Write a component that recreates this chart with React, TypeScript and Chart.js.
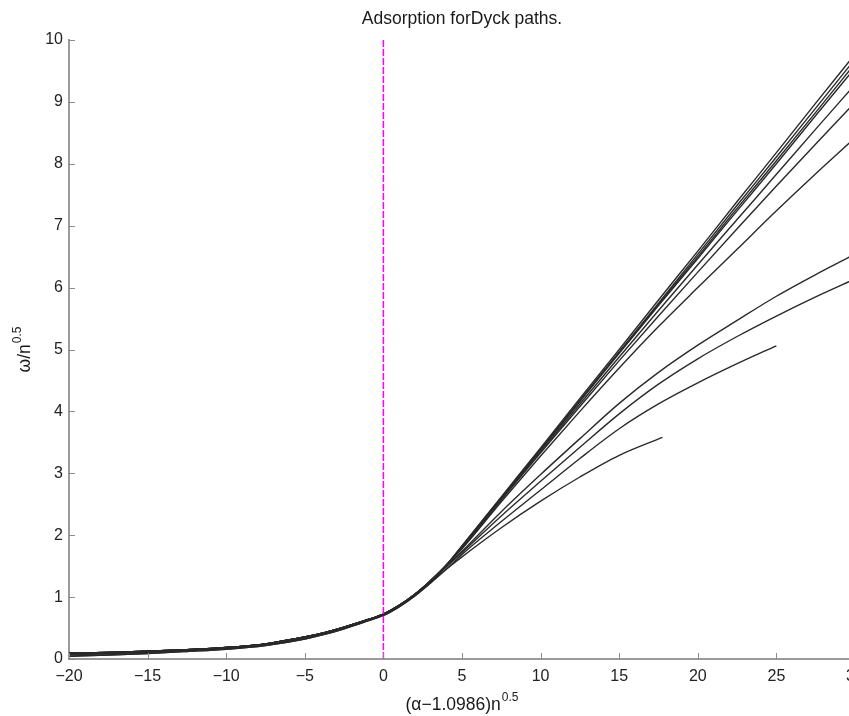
import React, { useEffect, useRef } from 'react';
import { Chart, registerables } from 'chart.js';

Chart.register(...registerables);

const FONT = '"Liberation Sans", Arial, Helvetica, sans-serif';

const chartTitle = 'Adsorption forDyck paths.';
const xAxisMain = '(α−1.0986)n';
const yAxisMain = 'ω/n';
const axisExponent = '0.5';

const xLimits = [-20, 30];
const yLimits = [0, 10];
const xStep = 5;
const yStep = 1;

// Scaled coupling (α − 1.0986)·n^0.5 where all system sizes collapse
const xCore = [-20, -17.5, -15, -12.5, -10, -7.5, -5, -3.75, -2.5, -1.25, 0, 1, 2, 3, 4];
const yCoreLarge = [0.095, 0.105, 0.125, 0.15, 0.185, 0.245, 0.355, 0.425, 0.515, 0.615, 0.725, 0.865, 1.045, 1.265, 1.515];
const yCoreMid = [0.07, 0.088, 0.11, 0.138, 0.172, 0.232, 0.34, 0.412, 0.502, 0.605, 0.715, 0.855, 1.035, 1.25, 1.49];
const yCoreSmall = [0.045, 0.065, 0.09, 0.122, 0.157, 0.217, 0.323, 0.397, 0.489, 0.593, 0.703, 0.843, 1.02, 1.23, 1.45];

// Adsorbed regime, where the system sizes separate
const xTail = [5, 7.5, 10, 12.5, 15, 17.5, 20, 22.5, 25, 27.5, 30];
const xTailH = [5, 7.5, 10, 12.5, 15, 17.5, 20, 22.5, 25];
const xTailI = [5, 7.5, 10, 12.5, 15, 17.75];

const tailA1 = [1.83, 2.62, 3.41, 4.21, 5.0, 5.8, 6.59, 7.39, 8.18, 8.98, 9.77];
const tailA2 = [1.82, 2.61, 3.39, 4.18, 4.96, 5.75, 6.54, 7.33, 8.11, 8.9, 9.69];
const tailA3 = [1.82, 2.6, 3.38, 4.17, 4.95, 5.73, 6.5, 7.28, 8.05, 8.83, 9.62];
const tailB = [1.81, 2.6, 3.38, 4.16, 4.94, 5.71, 6.47, 7.24, 8.0, 8.78, 9.55];
const tailC = [1.8, 2.58, 3.35, 4.12, 4.88, 5.63, 6.37, 7.1, 7.83, 8.56, 9.28];
const tailD = [1.8, 2.57, 3.33, 4.08, 4.82, 5.54, 6.25, 6.95, 7.64, 8.32, 8.99];
const tailE = [1.78, 2.54, 3.28, 4.0, 4.7, 5.37, 6.0, 6.62, 7.24, 7.84, 8.42];
const tailF = [1.74, 2.38, 2.98, 3.56, 4.13, 4.63, 5.07, 5.47, 5.86, 6.21, 6.54];
const tailG = [1.72, 2.31, 2.87, 3.42, 3.96, 4.44, 4.85, 5.21, 5.54, 5.85, 6.14];
const tailH = [1.69, 2.22, 2.73, 3.24, 3.72, 4.12, 4.46, 4.77, 5.06];
const tailI = [1.65, 2.12, 2.55, 2.94, 3.29, 3.58];

const curves: [number[], number[], number[]][] = [
  [yCoreLarge, xTail, tailA1],
  [yCoreLarge, xTail, tailA2],
  [yCoreLarge, xTail, tailA3],
  [yCoreLarge, xTail, tailB],
  [yCoreLarge, xTail, tailC],
  [yCoreLarge, xTail, tailD],
  [yCoreLarge, xTail, tailE],
  [yCoreMid, xTail, tailF],
  [yCoreMid, xTail, tailG],
  [yCoreSmall, xTailH, tailH],
  [yCoreSmall, xTailI, tailI],
];

const criticalLineX = [0, 0];
const criticalLineY = [0, 10];

function drawWithExponent(ctx: CanvasRenderingContext2D, main: string, exp: string, cx: number, baseline: number) {
  ctx.font = `17.5px ${FONT}`;
  const mw = ctx.measureText(main).width;
  ctx.font = `12px ${FONT}`;
  const ew = ctx.measureText(exp).width;
  const start = cx - (mw + ew + 1) / 2;
  ctx.textAlign = 'left';
  ctx.textBaseline = 'alphabetic';
  ctx.font = `17.5px ${FONT}`;
  ctx.fillText(main, start, baseline);
  ctx.font = `12px ${FONT}`;
  ctx.fillText(exp, start + mw + 1, baseline - 9);
}

const axesDecor = {
  id: 'axesDecor',
  afterDraw(chart: any) {
    const { ctx, chartArea: a, scales } = chart;
    ctx.save();
    ctx.strokeStyle = '#8a8a8a';
    ctx.lineWidth = 1;
    for (const t of scales.x.ticks) {
      const px = Math.round(scales.x.getPixelForValue(t.value)) + 0.5;
      ctx.beginPath();
      ctx.moveTo(px, a.bottom);
      ctx.lineTo(px, a.bottom - 6);
      ctx.stroke();
    }
    for (const t of scales.y.ticks) {
      const py = Math.round(scales.y.getPixelForValue(t.value)) + 0.5;
      ctx.beginPath();
      ctx.moveTo(a.left, py);
      ctx.lineTo(a.left + 6, py);
      ctx.stroke();
    }
    const cx = (a.left + a.right) / 2;
    ctx.fillStyle = '#1a1a1a';
    ctx.font = `17.5px ${FONT}`;
    ctx.textAlign = 'center';
    ctx.textBaseline = 'alphabetic';
    ctx.fillText(chartTitle, cx, 24);
    drawWithExponent(ctx, xAxisMain, axisExponent, cx, 710);
    ctx.translate(30, (a.top + a.bottom) / 2);
    ctx.rotate(-Math.PI / 2);
    drawWithExponent(ctx, yAxisMain, axisExponent, 0, 0);
    ctx.restore();
  },
};

export default function App() {
  const ref = useRef<HTMLCanvasElement>(null);

  useEffect(() => {
    if (!ref.current) return;
    const datasets: any[] = [
      {
        data: criticalLineX.map((x, i) => ({ x, y: criticalLineY[i] })),
        borderColor: '#ff00ff',
        borderWidth: 1.5,
        borderDash: [7, 2],
        pointRadius: 0,
        fill: false,
      },
    ];
    curves.forEach(([core, xs, ys]) => {
      const pts = xCore.map((x, i) => ({ x, y: core[i] })).concat(xs.map((x, i) => ({ x, y: ys[i] })));
      datasets.push({
        data: pts,
        borderColor: '#2a2a2a',
        borderWidth: 1.4,
        pointRadius: 0,
        fill: false,
        cubicInterpolationMode: 'monotone',
      });
    });

    const chart = new Chart(ref.current, {
      type: 'line',
      data: { datasets },
      options: {
        animation: false,
        responsive: false,
        devicePixelRatio: 1,
        layout: { padding: { top: 40, right: 45, left: 0, bottom: 0 } },
        plugins: { legend: { display: false }, tooltip: { enabled: false }, title: { display: false } },
        scales: {
          x: {
            type: 'linear',
            min: xLimits[0],
            max: xLimits[1],
            grid: { display: false, drawTicks: false },
            border: { display: true, color: '#9a9a9a', width: 2 },
            ticks: {
              stepSize: xStep,
              autoSkip: false,
              maxRotation: 0,
              padding: 8,
              color: '#222',
              font: { family: FONT, size: 16 },
              callback: (v: any) => (v < 0 ? '−' + Math.abs(v) : String(v)),
            },
            afterFit: (s: any) => {
              s.height = 57;
            },
          },
          y: {
            type: 'linear',
            min: yLimits[0],
            max: yLimits[1],
            grid: { display: false, drawTicks: false },
            border: { display: true, color: '#9a9a9a', width: 2 },
            ticks: {
              stepSize: yStep,
              padding: 6,
              color: '#222',
              font: { family: FONT, size: 16 },
            },
            afterFit: (s: any) => {
              s.width = 69;
            },
          },
        },
      },
      plugins: [axesDecor],
    });
    return () => chart.destroy();
  }, []);

  return (
    <div style={{ position: 'fixed', left: 0, top: 0, width: 849, height: 716, overflow: 'hidden', background: '#fff' }}>
      <canvas ref={ref} width={900} height={716} style={{ display: 'block' }} />
    </div>
  );
}
